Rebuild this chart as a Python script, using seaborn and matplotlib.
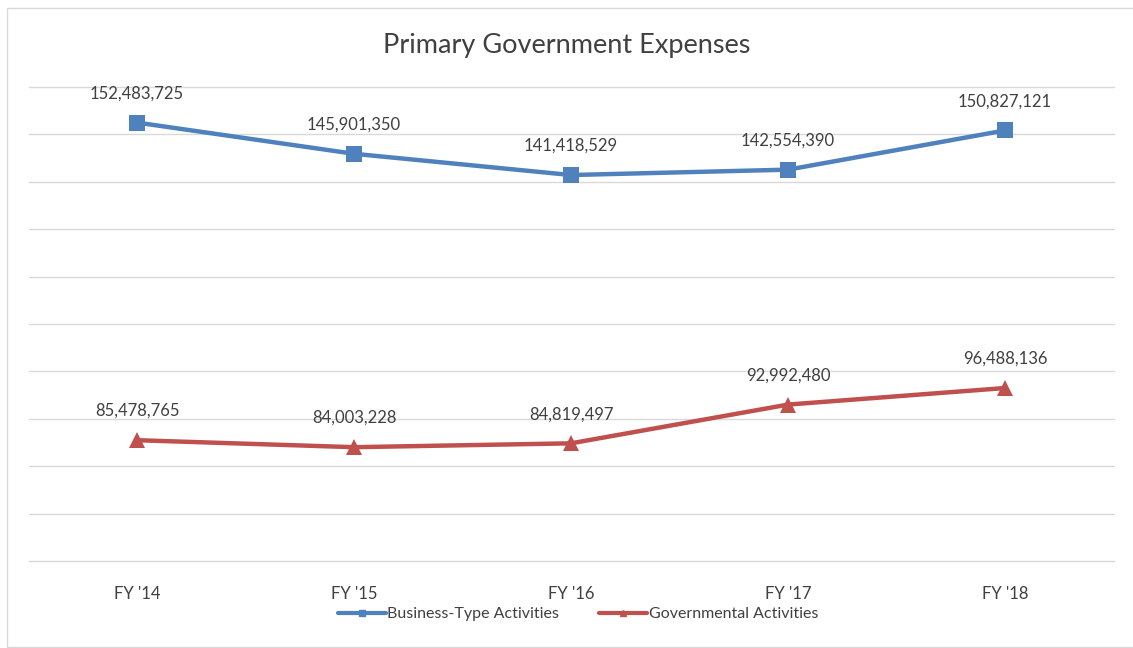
import pandas as pd
import matplotlib.pyplot as plt
import seaborn as sns
from matplotlib.lines import Line2D
from matplotlib.patches import Rectangle

# Chart data
years = ["FY '14", "FY '15", "FY '16", "FY '17", "FY '18"]
business = [152483725, 145901350, 141418529, 142554390, 150827121]
governmental = [85478765, 84003228, 84819497, 92992480, 96488136]
series_names = ['Business-Type Activities', 'Governmental Activities']

df = pd.DataFrame({
    'Year': years * 2,
    'Expenses': business + governmental,
    'Series': [series_names[0]] * len(years) + [series_names[1]] * len(years),
})

sns.set_style('white')
plt.rcParams['font.family'] = ['Lato', 'DejaVu Sans']

blue = '#4F81BD'
red = '#C0504D'
text_color = '#404040'

fig = plt.figure(figsize=(11.33, 6.48), dpi=100)
ax = fig.add_axes([0.0252, 0.1343, 0.9576, 0.7315])

sns.lineplot(data=df, x='Year', y='Expenses', hue='Series', style='Series',
             palette={series_names[0]: blue, series_names[1]: red},
             markers={series_names[0]: 's', series_names[1]: '^'},
             dashes=False, markersize=12, markeredgewidth=0,
             linewidth=3.2, sort=False, ax=ax, legend=False)

# Data labels above points
for vals in (business, governmental):
    for i, v in enumerate(vals):
        ax.annotate(f'{v:,}', (i, v), xytext=(0, 21), textcoords='offset points',
                    ha='center', va='center', fontsize=12, color=text_color)

ax.set_xlim(-0.5, len(years) - 0.5)
ax.set_ylim(60e6, 160e6)
ax.set_yticks(range(60_000_000, 160_000_001, 10_000_000))
ax.set_yticklabels([])
ax.tick_params(axis='y', length=0)
ax.tick_params(axis='x', length=0, labelsize=12, labelcolor=text_color, pad=18)
ax.grid(axis='y', color='#D9D9D9', linewidth=1)
for gl in ax.get_ygridlines():
    gl.set_clip_on(False)
ax.set_axisbelow(True)
for s in ax.spines.values():
    s.set_visible(False)
ax.set_xlabel('')
ax.set_ylabel('')

fig.text(0.5, 1 - 45 / 648, 'Primary Government Expenses', ha='center', va='center',
         fontsize=19.5, color=text_color)

handles = [
    Line2D([], [], color=blue, lw=3, marker='s', markersize=5),
    Line2D([], [], color=red, lw=3, marker='^', markersize=5),
]
fig.legend(handles, series_names, loc='center', bbox_to_anchor=(0.51, 1 - 614 / 648),
           ncol=2, frameon=False, fontsize=11.5, handlelength=3, handletextpad=0.1,
           columnspacing=2.5, labelcolor=text_color)

# Light chart border
fig.patches.append(Rectangle((7 / 1133, 1 / 648), 1.1, 1 - 9 / 648, transform=fig.transFigure,
                             fill=False, edgecolor='#D9D9D9', linewidth=1))

fig.savefig('out.png', dpi=100)
